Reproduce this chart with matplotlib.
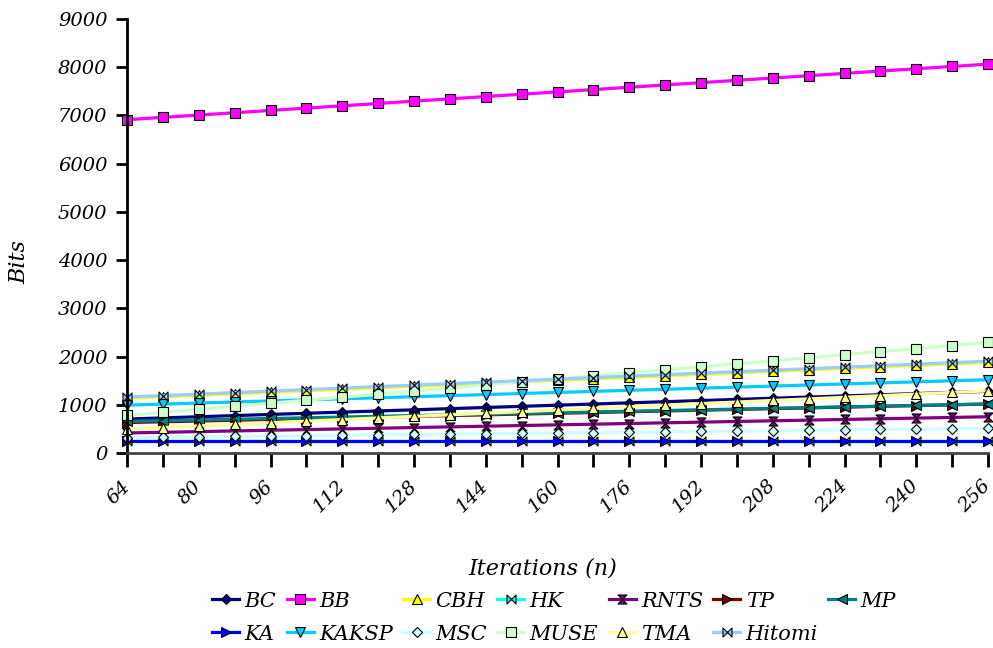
import matplotlib
matplotlib.use("Agg")
import matplotlib.pyplot as plt
from matplotlib.path import Path
from matplotlib.ticker import MultipleLocator

plt.rcParams['font.family'] = ['DejaVu Serif']
plt.rcParams['font.style'] = 'italic'

# iteration counts
n_values = list(range(64, 257, 8))

BC = [704, 728, 752, 776, 800, 824, 848, 872, 896, 920, 944, 968, 992,
      1016, 1040, 1064, 1088, 1112, 1136, 1160, 1184, 1208, 1232, 1256, 1280]
BB = [6912, 6960, 7008, 7056, 7104, 7152, 7200, 7248, 7296, 7344, 7392, 7440, 7488,
      7536, 7584, 7632, 7680, 7728, 7776, 7824, 7872, 7920, 7968, 8016, 8064]
CBH = [1136, 1167, 1198, 1229, 1260, 1291, 1322, 1353, 1384, 1415, 1446, 1477, 1508,
       1539, 1570, 1601, 1632, 1663, 1694, 1725, 1756, 1787, 1818, 1849, 1880]
HK = [256] * 25
RNTS = [416, 430, 444, 458, 472, 486, 500, 514, 528, 542, 556, 570, 584,
        598, 612, 626, 640, 654, 668, 682, 696, 710, 724, 738, 752]
TP = [632, 648, 664, 680, 696, 712, 728, 744, 760, 776, 792, 808, 824,
      840, 856, 872, 888, 904, 920, 936, 952, 968, 984, 1000, 1016]
MP = [656, 671, 686, 701, 716, 731, 746, 761, 776, 791, 806, 821, 836,
      851, 866, 881, 896, 911, 926, 941, 956, 971, 986, 1001, 1016]
KA = [256] * 25
KAKSP = [992, 1014, 1036, 1058, 1080, 1102, 1124, 1146, 1168, 1190, 1212, 1234, 1256,
         1278, 1300, 1322, 1344, 1366, 1388, 1410, 1432, 1454, 1476, 1498, 1520]
MSC = [320, 328, 336, 344, 352, 360, 368, 376, 384, 392, 400, 408, 416,
       424, 432, 440, 448, 456, 464, 472, 480, 488, 496, 504, 512]
MUSE = [780, 843, 906, 969, 1032, 1095, 1158, 1221, 1284, 1347, 1410, 1473, 1536,
        1599, 1662, 1725, 1788, 1851, 1914, 1977, 2040, 2103, 2166, 2229, 2292]
TMA = [496, 529, 562, 595, 628, 661, 694, 727, 760, 793, 826, 859, 892,
       925, 958, 991, 1024, 1057, 1090, 1123, 1156, 1189, 1222, 1255, 1288]
Hitomi = [1160, 1191, 1222, 1253, 1284, 1315, 1346, 1377, 1408, 1439, 1470, 1501, 1532,
          1563, 1594, 1625, 1656, 1687, 1718, 1749, 1780, 1811, 1842, 1873, 1904]

# bowtie markers (horizontal and vertical)
bowtie = Path([(-1, 1), (1, -1), (1, 1), (-1, -1), (-1, 1)],
              [Path.MOVETO, Path.LINETO, Path.LINETO, Path.LINETO, Path.CLOSEPOLY])
hourglass = Path([(-1, 1), (1, 1), (-1, -1), (1, -1), (-1, 1)],
                 [Path.MOVETO, Path.LINETO, Path.LINETO, Path.LINETO, Path.CLOSEPOLY])

series = [
    ("BC", BC, "#000080", "D", 5.5),
    ("BB", BB, "#FF00FF", "s", 6.5),
    ("CBH", CBH, "#FFFF00", "^", 6.5),
    ("HK", HK, "#00FFFF", bowtie, 6.5),
    ("RNTS", RNTS, "#800080", hourglass, 6.5),
    ("TP", TP, "#800000", ">", 6.5),
    ("MP", MP, "#008080", "<", 6.5),
    ("KA", KA, "#0000FF", ">", 6.5),
    ("KAKSP", KAKSP, "#00CCFF", "v", 6.5),
    ("MSC", MSC, "#CCFFFF", "D", 5.5),
    ("MUSE", MUSE, "#CCFFCC", "s", 6.5),
    ("TMA", TMA, "#FFFF99", "^", 6.5),
    ("Hitomi", Hitomi, "#99CCFF", bowtie, 6.5),
]

fig = plt.figure(figsize=(9.93, 6.48), dpi=100)
ax = fig.add_axes([0.1279, 0.3009, 0.8671, 0.6698])

handles = {}
for name, vals, col, mk, ms in series:
    h, = ax.plot(n_values, vals, color=col, lw=2.3, marker=mk, ms=ms,
                 mfc=col, mec="black", mew=0.8, label=name, clip_on=False)
    handles[name] = h

ax.set_xlim(64, 256)
ax.set_ylim(0, 9000)
ax.xaxis.set_major_locator(MultipleLocator(16))
ax.xaxis.set_minor_locator(MultipleLocator(8))
ax.yaxis.set_major_locator(MultipleLocator(1000))

for s in ["top", "right"]:
    ax.spines[s].set_visible(False)
ax.spines["left"].set_linewidth(2)
ax.spines["bottom"].set_linewidth(2)
ax.spines["bottom"].set_color("#444444")

ax.tick_params(axis="both", which="both", direction="out", width=2, length=8,
               labelsize=14)
ax.tick_params(axis="y", pad=6)
ax.tick_params(axis="x", which="both", length=10)
for lbl in ax.get_xticklabels():
    lbl.set_rotation(45)
    lbl.set_ha("right")
    lbl.set_va("center")
    lbl.set_rotation_mode("anchor")
ax.tick_params(axis="x", pad=12)

ax.set_xlabel("Iterations (n)", fontsize=16, labelpad=30, x=0.483)
ax.set_ylabel("Bits", fontsize=16, labelpad=20, y=0.44)

# legend rows read left to right, matplotlib fills by column
order = ["BC", "KA", "BB", "KAKSP", "CBH", "MSC", "HK", "MUSE",
         "RNTS", "TMA", "TP", "Hitomi", "MP"]
ax.legend([handles[k] for k in order], order, ncol=7, loc="upper center",
          bbox_to_anchor=(0.496, -0.3), frameon=False, fontsize=15,
          handlelength=1.3, handletextpad=0.25, columnspacing=0.5,
          labelspacing=0.68, borderaxespad=0)

fig.savefig("out.png", dpi=100)
